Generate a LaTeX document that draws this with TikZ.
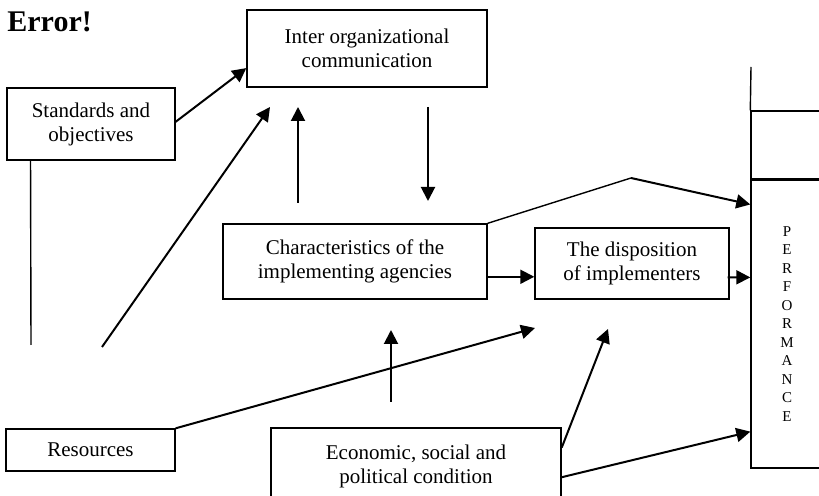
\documentclass[tikz,border=0pt]{standalone}
\usepackage{fontspec}
\setmainfont{Liberation Serif}
\usepackage{tikz}
\usetikzlibrary{positioning,arrows.meta,calc}
\definecolor{ink}{HTML}{000000}

\begin{document}
\begin{tikzpicture}[x=0.5pt, y=-0.5pt, >={Triangle[length=7pt,width=7pt]},
    box/.style={draw=ink, line width=0.7pt, align=center, inner sep=0pt,
      font=\fontsize{10.5}{12}\selectfont},
    link/.style={draw=ink, line width=1pt},
    thin/.style={draw=ink, line width=0.7pt}]
        \clip (0,0) rectangle (819,496);
        \node[anchor=base west, inner sep=0pt, font=\fontsize{15}{18}\selectfont\bfseries] (err) at (7,32) {Error!};
        \node[box, minimum width=120pt, minimum height=38.5pt] (inter) at (367,48.5) {Inter organizational\\communication};
        \node[box, minimum width=84pt, minimum height=36pt] (std) at (91,124) {Standards and\\objectives};
        \node[box, minimum width=132pt, minimum height=37.5pt] (char) at (355,261.5) {Characteristics of the\\implementing agencies};
        \node[box, minimum width=97pt, minimum height=35.5pt] (disp) at (632,263.5) {The disposition\\of implementers};
        \node[box, minimum width=84.5pt, minimum height=21pt] (res) at (90.5,450) {Resources};
        \node[box, minimum width=145pt, minimum height=38pt] (econ) at (416,466) {Economic, social and\\political condition};
        \node[box, minimum width=36pt, minimum height=144pt, font=\fontsize{7.5}{9.25}\selectfont] (perf) at (787,324) {P\\E\\R\\F\\O\\R\\M\\A\\N\\C\\E};
        \node[box, minimum width=36pt, minimum height=34pt] (cap) at (787,145) {};
        \coordinate (top) at (751,67);
        \draw[thin] (cap.north west) -- (top);
        \coordinate (rs) at (102,347);
        \coordinate (rt) at (270,107);
        \coordinate (sl) at (31,345);
        \coordinate (ub) at (298,203);
        \coordinate (ut) at (298,107);
        \coordinate (db) at (428,107);
        \coordinate (dt) at (428,201);
        \coordinate (peak) at (631,178);
        \coordinate (rd) at (535,328);
        \coordinate (eb) at (391,402);
        \coordinate (et) at (391,330);
        \coordinate (ed) at (608,329);
        \draw[link, ->] ($(std.north east)!0.47!(std.south east)$) -- ($(inter.north west)!0.75!(inter.south west)$);
        \draw[thin] ($(std.south west)!0.143!(std.south east)$) -- (sl);
        \draw[link, ->] (rs) -- (rt);
        \draw[link, ->] (ub) -- (ut);
        \draw[link, ->] (db) -- (dt);
        \draw[link, ->] ($(char.north east)!0.7!(char.south east)$) -- (disp.west |- {$(char.north east)!0.7!(char.south east)$});
        \draw[link, ->] ($(disp.north east)!0.69!(disp.south east)+(-2,0)$) -- ($(perf.north west)!0.339!(perf.south west)$);
        \draw[thin] (char.north east) -- (peak);
        \draw[link, ->] (peak) -- ($(perf.north west)!0.087!(perf.south west)$);
        \draw[link, ->] (res.north east) -- (rd);
        \draw[link, ->] (eb) -- (et);
        \draw[link, ->] ($(econ.north east)!0.263!(econ.south east)$) -- (ed);
        \draw[link, ->] ($(econ.north east)!0.645!(econ.south east)$) -- ($(perf.north west)!0.872!(perf.south west)$);
\end{tikzpicture}
\end{document}
